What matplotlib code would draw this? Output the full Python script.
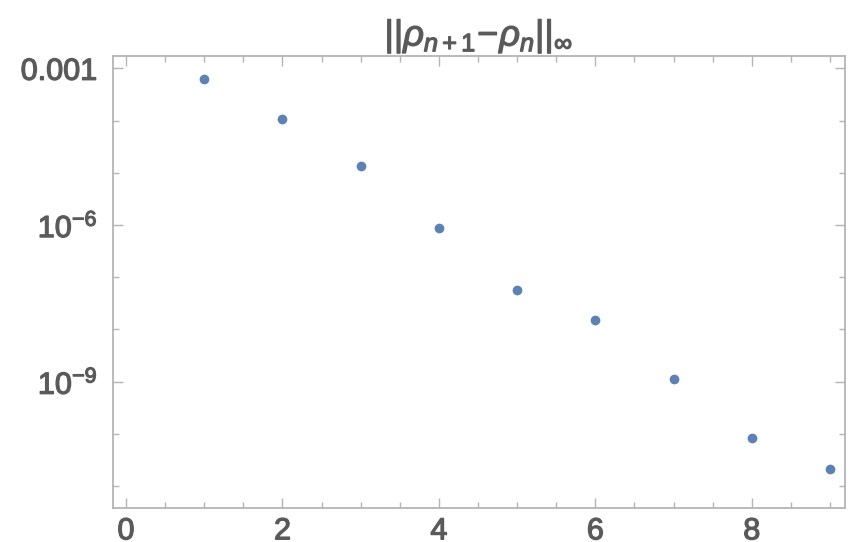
import matplotlib
matplotlib.use("Agg")
import matplotlib.pyplot as plt
import matplotlib.patheffects as pe
from matplotlib.ticker import FixedLocator, FixedFormatter, MultipleLocator

# iteration index and sup-norm of successive differences
n = [1, 2, 3, 4, 5, 6, 7, 8, 9]
diff_norm = [6.2e-4, 1.08e-4, 1.36e-5, 8.7e-7, 5.6e-8, 1.53e-8, 1.12e-9, 8.4e-11, 2.14e-11]

y_major = [1e-3, 1e-6, 1e-9]
y_major_labels = ["0.001", r"$10^{-6}$", r"$10^{-9}$"]
y_minor = [1e-4, 1e-5, 1e-7, 1e-8, 1e-10, 1e-11]
x_major = [0, 2, 4, 6, 8]

plt.rcParams["font.family"] = ["Liberation Sans", "DejaVu Sans"]
plt.rcParams["mathtext.fontset"] = "custom"
plt.rcParams["mathtext.rm"] = "Liberation Sans"
plt.rcParams["mathtext.it"] = "Liberation Sans:italic"
plt.rcParams["mathtext.sf"] = "Liberation Sans"

label_grey = "#5a5a5a"
frame_grey = "#b4b4b4"
point_blue = "#5E81B5"
thicken = [pe.withStroke(linewidth=0.9, foreground=label_grey)]

fig = plt.figure(figsize=(8.56, 5.42), dpi=100)
ax = fig.add_axes([0.1317, 0.0627, 0.987 - 0.1317, 0.8972 - 0.0627])

ax.plot(n, diff_norm, "o", color=point_blue, markersize=7, markeredgewidth=0)

ax.set_yscale("log")
ax.set_xlim(-0.17, 9.19)
ax.set_ylim(10 ** -11.42, 10 ** -2.759)

ax.yaxis.set_major_locator(FixedLocator(y_major))
ax.yaxis.set_major_formatter(FixedFormatter(y_major_labels))
ax.yaxis.set_minor_locator(FixedLocator(y_minor))
ax.yaxis.set_minor_formatter(FixedFormatter([""] * len(y_minor)))
ax.xaxis.set_major_locator(FixedLocator(x_major))
ax.xaxis.set_minor_locator(MultipleLocator(0.5))

for side in ax.spines.values():
    side.set_color(frame_grey)
    side.set_linewidth(1.3)

ax.tick_params(which="both", direction="in", top=True, right=True,
               color=frame_grey, width=1.0)
ax.tick_params(which="major", length=7)
ax.tick_params(which="minor", length=4)
ax.tick_params(axis="y", which="major", labelsize=22, labelcolor=label_grey, pad=11)
ax.tick_params(axis="x", which="major", labelsize=22, labelcolor=label_grey, pad=6)

for lbl in ax.get_xticklabels() + ax.get_yticklabels():
    lbl.set_path_effects(thicken)

title = ax.set_title(r"$||\rho_{n+1}\!-\!\rho_{n}||_{\infty}$", fontsize=26,
                     color=label_grey, pad=5)
title.set_path_effects(thicken)

fig.savefig("out.png", dpi=100)
